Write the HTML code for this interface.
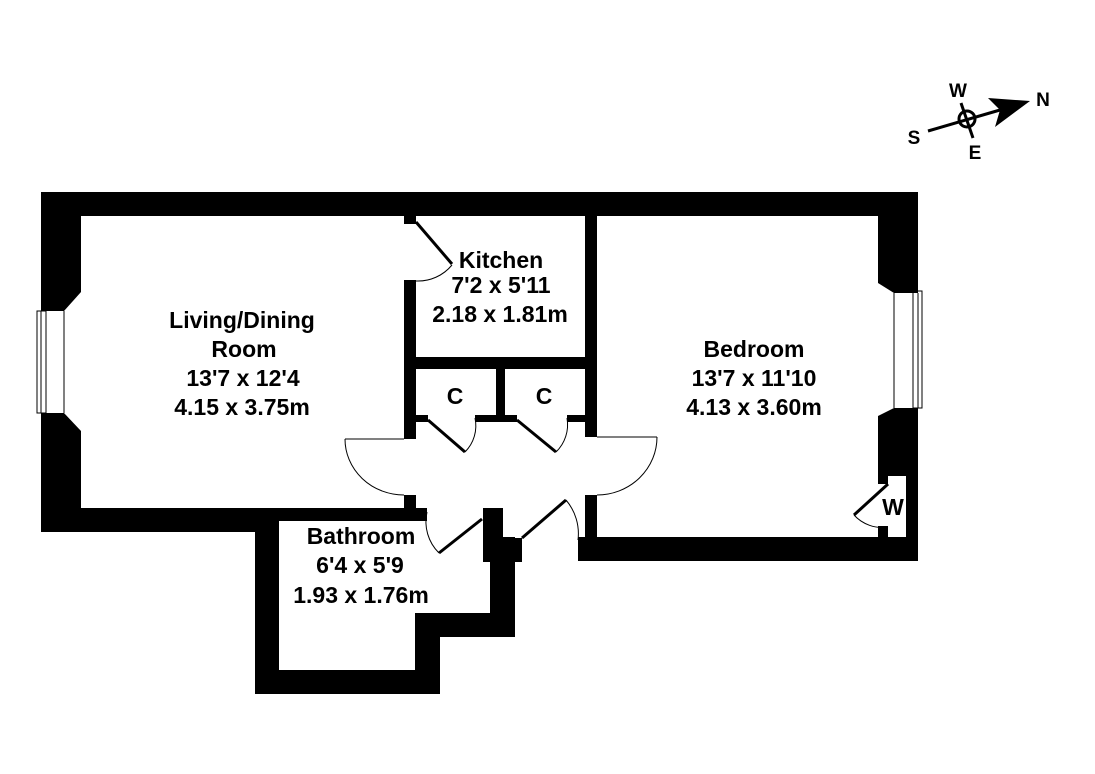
<!DOCTYPE html>
<html><head><meta charset="utf-8"><style>html,body{margin:0;padding:0;background:#fff;width:1095px;height:774px;overflow:hidden}</style></head>
<body>
<svg width="1095" height="774" viewBox="0 0 1095 774" xmlns="http://www.w3.org/2000/svg" font-family="Liberation Sans, Arial, sans-serif" font-weight="bold">
<g fill="#000">
<rect x="41" y="192" width="877" height="24"/>
<polygon points="41,216 81,216 81,292 64,311 41,311"/>
<polygon points="41,413 64,413 81,431 81,508 41,508"/>
<rect x="41" y="508" width="386" height="13"/>
<rect x="41" y="521" width="238" height="11"/>
<rect x="255" y="508" width="24" height="186"/>
<rect x="255" y="670" width="185" height="24"/>
<rect x="415" y="613" width="25" height="81"/>
<rect x="415" y="613" width="100" height="24"/>
<rect x="490" y="537" width="25" height="100"/>
<rect x="483" y="508" width="20" height="54"/>
<rect x="503" y="538" width="19" height="24"/>
<rect x="404" y="216" width="12" height="8"/>
<rect x="404" y="280" width="12" height="159"/>
<rect x="404" y="495" width="12" height="13"/>
<rect x="585" y="216" width="12" height="221"/>
<rect x="404" y="357" width="193" height="12"/>
<rect x="496" y="369" width="9" height="53"/>
<rect x="404" y="415" width="24" height="7"/>
<rect x="475" y="415" width="42" height="7"/>
<rect x="567" y="415" width="30" height="7"/>
<rect x="585" y="495" width="12" height="66"/>
<rect x="578" y="537" width="340" height="24"/>
<polygon points="878,216 918,216 918,293 894,293 878,283"/>
<polygon points="894,408 918,408 918,476 878,476 878,416"/>
<rect x="878" y="476" width="10" height="8"/>
<rect x="878" y="526" width="10" height="11"/>
<rect x="906" y="476" width="12" height="61"/>
</g>
<g fill="none" stroke="#000" stroke-width="1">
<rect x="37" y="311" width="9" height="102"/>
<line x1="41" y1="311" x2="41" y2="413"/>
<line x1="64" y1="311" x2="64" y2="413"/>
<rect x="913" y="291" width="9" height="117"/>
<line x1="918" y1="293" x2="918" y2="408"/>
<line x1="894" y1="293" x2="894" y2="408"/>
<path d="M452,265 A44,44 0 0 1 416,281"/>
<path d="M345,439 L404,439 M345,439 A59,56 0 0 0 404,495"/>
<path d="M657,437 L597,437 M657,437 A60,58 0 0 1 597,495"/>
<path d="M465,452 A37,37 0 0 0 475,418"/>
<path d="M556,452 A38,38 0 0 0 567,418"/>
<path d="M427,512 A44,44 0 0 0 439,553"/>
<path d="M566,500 A52,52 0 0 1 578,540"/>
<path d="M854,515 A38,38 0 0 0 888,527"/>
</g>
<g stroke="#000" stroke-width="3" fill="none">
<line x1="416" y1="222" x2="452" y2="264"/>
<line x1="428" y1="420" x2="465" y2="452"/>
<line x1="517" y1="420" x2="556" y2="452"/>
<line x1="439" y1="553" x2="482" y2="519"/>
<line x1="522" y1="538" x2="566" y2="500"/>
<line x1="888" y1="484" x2="854" y2="515"/>
</g>
<g stroke="#000" stroke-width="3" fill="none">
<line x1="928" y1="131" x2="1000" y2="110"/>
<line x1="961" y1="103" x2="973" y2="138"/>
<circle cx="967" cy="119" r="8"/>
</g>
<polygon points="1030,101 988,98 1000,110 995,127" fill="#000"/>
<g font-size="19" fill="#000" text-anchor="middle">
<text x="958" y="97">W</text>
<text x="1043" y="106">N</text>
<text x="914" y="144">S</text>
<text x="975" y="159">E</text>
</g>
<g font-size="23" fill="#000" text-anchor="middle">
<text x="242" y="328">Living/Dining</text>
<text x="244" y="357">Room</text>
<text x="243" y="386">13'7 x 12'4</text>
<text x="242" y="415">4.15 x 3.75m</text>
<text x="501" y="268">Kitchen</text>
<text x="501" y="293">7'2 x 5'11</text>
<text x="500" y="322">2.18 x 1.81m</text>
<text x="455" y="404">C</text>
<text x="544" y="404">C</text>
<text x="754" y="357">Bedroom</text>
<text x="754" y="386">13'7 x 11'10</text>
<text x="754" y="415">4.13 x 3.60m</text>
<text x="361" y="544">Bathroom</text>
<text x="360" y="573">6'4 x 5'9</text>
<text x="361" y="603">1.93 x 1.76m</text>
<text x="893" y="515">W</text>
</g>
</svg>
</body></html>
